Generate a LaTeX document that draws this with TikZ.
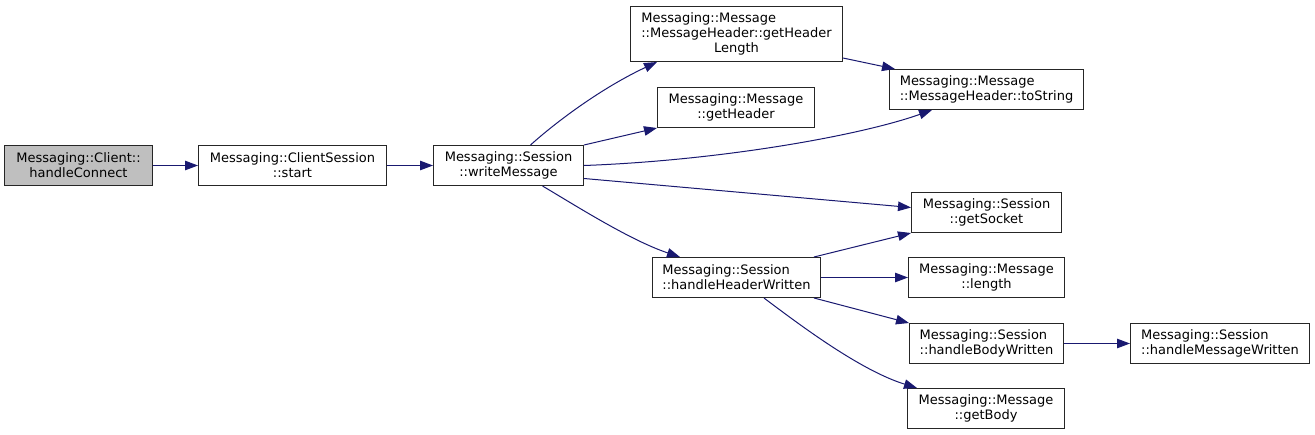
\documentclass[tikz,border=0pt]{standalone}
\usepackage{fontspec}
\setmainfont{DejaVu Sans}
\usetikzlibrary{arrows.meta}
\definecolor{edgeblue}{HTML}{191970}
\definecolor{rootgray}{HTML}{BFBFBF}
\begin{document}
\begin{tikzpicture}[x=1pt,y=-1pt,
  plainbox/.style={draw=black!85, line width=1pt, fill=white, inner sep=0pt,
    font=\fontsize{13}{15}\selectfont, minimum height=40pt},
  box/.style={plainbox, align=center},
  lbox/.style={plainbox, align=left},
  edge/.style={draw=edgeblue, line width=1pt, -{Triangle[length=13pt,width=9.5pt]}}]
\useasboundingbox (-0.5,-0.5) rectangle (1314.5,433.5);

\node[box, fill=rootgray, minimum width=147pt] (n1) at (78,165) {Messaging::Client::\\handleConnect};
\node[box, minimum width=188pt] (n2) at (292,165) {Messaging::ClientSession\\::start};
\node[box, minimum width=150pt] (n3) at (508,165) {Messaging::Session\\::writeMessage};
\node[plainbox, minimum width=212pt, minimum height=55pt] (n4) at (736,33.5)
  {\begin{tabular}{@{}l@{}}Messaging::Message\\::MessageHeader::getHeader\\\multicolumn{1}{@{}c@{}}{Length}\end{tabular}};
\node[box, minimum width=157pt] (n5) at (735.5,107) {Messaging::Message\\::getHeader};
\node[lbox, minimum width=194pt] (n6) at (986,89) {Messaging::Message\\::MessageHeader::toString};
\node[box, minimum width=150pt] (n7) at (986,212) {Messaging::Session\\::getSocket};
\node[lbox, minimum width=168pt] (n8) at (736,277) {Messaging::Session\\::handleHeaderWritten};
\node[box, minimum width=156pt] (n9) at (986,277) {Messaging::Message\\::length};
\node[lbox, minimum width=154pt] (n10) at (986,343) {Messaging::Session\\::handleBodyWritten};
\node[lbox, minimum width=179pt] (n11) at (1219.5,343) {Messaging::Session\\::handleMessageWritten};
\node[box, minimum width=157pt] (n12) at (985.5,408) {Messaging::Message\\::getBody};

\draw[edge] (n1) -- (n2);
\draw[edge] (n2) -- (n3);
\draw[edge] ([xshift=22pt]n3.north) .. controls (555,122) and (600,88) .. ([xshift=27pt]n4.south west);
\draw[edge] (n3.north east) -- (n5.south west);
\draw[edge] (n3.east) .. controls (720,160) and (860,135) .. ([xshift=43pt]n6.south west);
\draw[edge] ([yshift=-13pt]n3.east) -- ([yshift=5pt]n7.west);
\draw[edge] ([xshift=34pt]n3.south) .. controls (575,205) and (630,240) .. ([xshift=28pt]n8.north west);
\draw[edge] ([yshift=-24pt]n4.east) -- ([xshift=6pt]n6.north west);
\draw[edge] ([xshift=-7pt]n8.north east) -- (n7.south west);
\draw[edge] (n8) -- (n9);
\draw[edge] ([xshift=-7pt]n8.south east) -- (n10.north west);
\draw[edge] ([xshift=27.5pt]n8.south) .. controls (800,325) and (860,370) .. ([xshift=10pt]n12.north west);
\draw[edge] (n10) -- (n11);
\end{tikzpicture}
\end{document}
